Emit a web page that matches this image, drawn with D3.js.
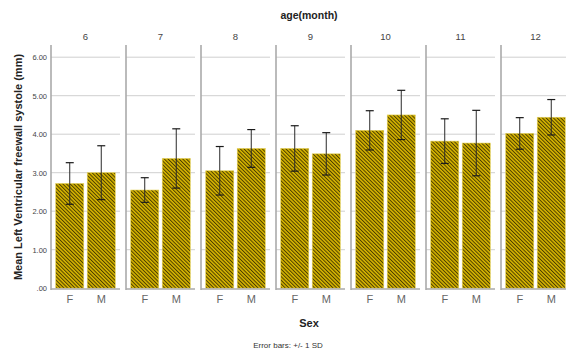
<!DOCTYPE html>
<html>
<head>
<meta charset="utf-8">
<script src="https://cdn.jsdelivr.net/npm/d3@7"></script>
<style>
  html, body { margin: 0; padding: 0; background: #fff; }
  svg { display: block; font-family: "Liberation Sans", Arial, sans-serif; }
</style>
</head>
<body>
<svg id="chart" width="566" height="351"></svg>
<script>
// Age groups (months) shown as panels, and sexes within each panel
const ages = ["6", "7", "8", "9", "10", "11", "12"];
const sexes = ["F", "M"];
// Mean LV freewall systole (mm) per age, F then M
const meanF = [2.72, 2.55, 3.05, 3.63, 4.10, 3.82, 4.02];
const meanM = [3.00, 3.37, 3.63, 3.49, 4.50, 3.77, 4.44];
// Standard deviations for the error bars
const sdF = [0.54, 0.32, 0.63, 0.59, 0.51, 0.58, 0.41];
const sdM = [0.70, 0.77, 0.49, 0.55, 0.64, 0.85, 0.46];
const yTicks = [0, 1, 2, 3, 4, 5, 6];

const rows = [];
ages.forEach((a, i) => {
  rows.push({ age: a, sex: "F", mean: meanF[i], sd: sdF[i] });
  rows.push({ age: a, sex: "M", mean: meanM[i], sd: sdM[i] });
});

const svg = d3.select("#chart");
const plotTop = 45, plotBottom = 289;

// Hatched gold fill
const defs = svg.append("defs");
const pat = defs.append("pattern")
  .attr("id", "hatch")
  .attr("patternUnits", "userSpaceOnUse")
  .attr("width", 2.6).attr("height", 2.6)
  .attr("patternTransform", "rotate(-45)");
pat.append("rect").attr("width", 2.6).attr("height", 2.6).attr("fill", "#d8b600");
pat.append("rect").attr("width", 1.0).attr("height", 2.6).attr("fill", "#4a3d00");

const panelX = d3.scaleBand().domain(ages).range([51, 570]).paddingInner(0.08).paddingOuter(0);
const pw = panelX.bandwidth();
const barX = d3.scaleBand().domain(sexes).range([0, pw]).paddingInner(0.11).paddingOuter(0.15);
const y = d3.scaleLinear().domain([0, 6]).range([288.2, 57.2]);

// Panel strip title
svg.append("text")
  .attr("x", 309).attr("y", 19)
  .attr("text-anchor", "middle")
  .attr("font-size", 10.5).attr("font-weight", "bold").attr("fill", "#222")
  .text("age(month)");

const panels = svg.selectAll("g.panel").data(ages).join("g")
  .attr("class", "panel")
  .attr("transform", d => `translate(${panelX(d)},0)`);

// Gridlines
panels.each(function () {
  const g = d3.select(this);
  g.selectAll("line.grid").data(yTicks.filter(t => t > 0)).join("line")
    .attr("class", "grid")
    .attr("x1", 0).attr("x2", pw)
    .attr("y1", d => y(d)).attr("y2", d => y(d))
    .attr("stroke", "#cfcfcf").attr("stroke-width", 1);
});

// Panel labels
panels.append("text")
  .attr("x", pw / 2).attr("y", 40)
  .attr("text-anchor", "middle")
  .attr("font-size", 9.5).attr("fill", "#444")
  .text(d => d);

// Bars
panels.selectAll("rect.bar")
  .data(a => rows.filter(r => r.age === a))
  .join("rect")
  .attr("class", "bar")
  .attr("x", d => barX(d.sex))
  .attr("width", barX.bandwidth())
  .attr("y", d => y(d.mean))
  .attr("height", d => y(0) - y(d.mean))
  .attr("fill", "url(#hatch)")
  .attr("stroke", "#e6d35a").attr("stroke-width", 0.6);

// Error bars (+/- 1 SD)
const eb = panels.selectAll("g.err")
  .data(a => rows.filter(r => r.age === a))
  .join("g")
  .attr("class", "err")
  .attr("transform", d => `translate(${barX(d.sex) + barX.bandwidth() / 2},0)`);
eb.append("line")
  .attr("y1", d => y(d.mean + d.sd)).attr("y2", d => y(d.mean - d.sd))
  .attr("stroke", "#2a2a2a").attr("stroke-width", 1);
eb.append("line")
  .attr("x1", -4).attr("x2", 4)
  .attr("y1", d => y(d.mean + d.sd)).attr("y2", d => y(d.mean + d.sd))
  .attr("stroke", "#1a1a1a").attr("stroke-width", 1.2);
eb.append("line")
  .attr("x1", -4).attr("x2", 4)
  .attr("y1", d => y(d.mean - d.sd)).attr("y2", d => y(d.mean - d.sd))
  .attr("stroke", "#1a1a1a").attr("stroke-width", 1.2);

// Panel frame: left axis line and baseline
panels.append("line")
  .attr("x1", 0).attr("x2", 0).attr("y1", plotTop).attr("y2", plotBottom + 1)
  .attr("stroke", "#aaa").attr("stroke-width", 1.6);
panels.append("line")
  .attr("x1", 0).attr("x2", pw).attr("y1", plotBottom).attr("y2", plotBottom)
  .attr("stroke", "#aaa").attr("stroke-width", 1.4);

// Sex labels under each panel
panels.selectAll("text.sex").data(sexes).join("text")
  .attr("class", "sex")
  .attr("x", d => barX(d) + barX.bandwidth() / 2)
  .attr("y", 303)
  .attr("text-anchor", "middle")
  .attr("font-size", 11).attr("fill", "#666")
  .text(d => d);

// Y axis tick labels
const fmt = v => v === 0 ? ".00" : d3.format(".2f")(v);
const yAxis = d3.axisLeft(y).tickValues(yTicks).tickFormat(fmt).tickSize(0).tickPadding(4);
const ya = svg.append("g").attr("transform", "translate(51,0)").call(yAxis);
ya.select(".domain").remove();
ya.selectAll("text").attr("font-size", 7.5).attr("fill", "#444")
  .attr("font-family", "'Liberation Sans', Arial, sans-serif");

// Y axis title
svg.append("text")
  .attr("transform", "translate(22,167) rotate(-90)")
  .attr("text-anchor", "middle")
  .attr("font-size", 11).attr("font-weight", "bold").attr("fill", "#222")
  .text("Mean Left Ventricular freewall systole (mm)");

// X axis title
svg.append("text")
  .attr("x", 309).attr("y", 327)
  .attr("text-anchor", "middle")
  .attr("font-size", 11).attr("font-weight", "bold").attr("fill", "#222")
  .text("Sex");

// Footnote
svg.append("text")
  .attr("x", 288).attr("y", 348)
  .attr("text-anchor", "middle")
  .attr("font-size", 8).attr("fill", "#333")
  .text("Error bars: +/- 1 SD");
</script>
</body>
</html>
